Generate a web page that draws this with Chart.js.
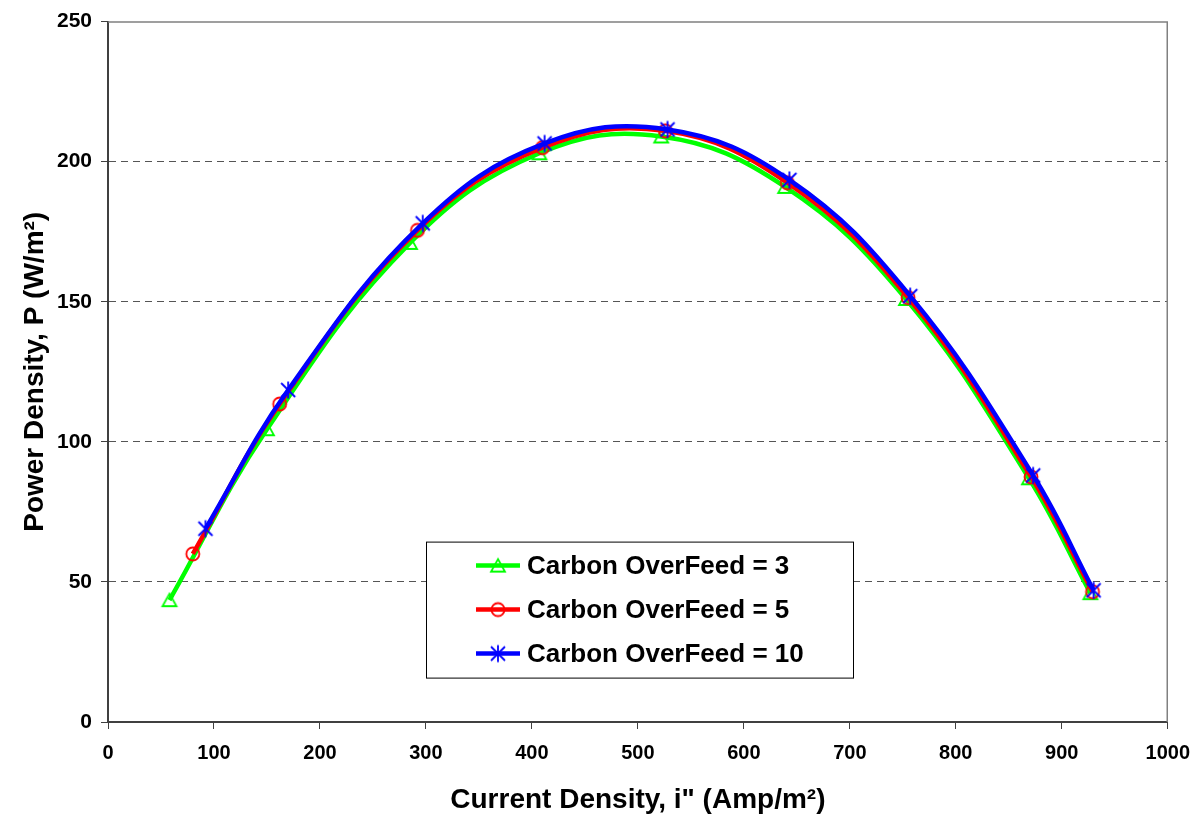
<!DOCTYPE html>
<html>
<head>
<meta charset="utf-8">
<script src="https://cdn.jsdelivr.net/npm/chart.js@4/dist/chart.umd.min.js"></script>
<style>
  html, body { margin: 0; padding: 0; background: #fff; }
  #wrap { width: 1202px; height: 823px; }
</style>
</head>
<body>
<div id="wrap"><canvas id="myChart" width="1202" height="823"></canvas></div>
<script>
// series data
const seriesNames = ['Carbon OverFeed = 3', 'Carbon OverFeed = 5', 'Carbon OverFeed = 10'];
const seriesColors = ['#00ff00', '#ff0000', '#0000ff'];

const feed3X = [58, 150, 285, 407, 522, 639, 753, 869, 927];
const feed3Y = [43.5, 104.5, 171, 203, 209, 191, 151, 87, 46];

const feed5X = [80, 162, 292, 410, 526, 641, 755, 871, 929];
const feed5Y = [60, 113.5, 175.5, 205, 211, 192.5, 151.5, 87.5, 46.5];

const feed10X = [92, 170, 297, 412, 528, 643, 757, 873, 930];
const feed10Y = [69, 118.5, 178, 206.5, 211.5, 193.5, 152, 88, 47];

const yTicks = [0, 50, 100, 150, 200, 250];
const xTicks = [0, 100, 200, 300, 400, 500, 600, 700, 800, 900, 1000];

const FONT = "'Liberation Sans', Arial, sans-serif";

// marker images (Excel-ish triangle, circle, asterisk)
function makeMarker(kind, color) {
    const c = document.createElement('canvas');
    c.width = 20; c.height = 20;
    const g = c.getContext('2d');
    g.strokeStyle = color;
    g.lineWidth = 1.8;
    g.beginPath();
    if (kind === 'triangle') {
        g.moveTo(10, 3.5); g.lineTo(17, 16); g.lineTo(3, 16); g.closePath();
    } else if (kind === 'circle') {
        g.arc(10, 10, 6.5, 0, Math.PI * 2);
    } else {
        g.moveTo(3, 3); g.lineTo(17, 17);
        g.moveTo(17, 3); g.lineTo(3, 17);
        g.moveTo(10, 1.5); g.lineTo(10, 18.5);
    }
    g.stroke();
    return c;
}
const markers = [
    makeMarker('triangle', seriesColors[0]),
    makeMarker('circle', seriesColors[1]),
    makeMarker('star', seriesColors[2])
];

function toPoints(xs, ys) {
    return xs.map((x, i) => ({ x: x, y: ys[i] }));
}

const allX = [feed3X, feed5X, feed10X];
const allY = [feed3Y, feed5Y, feed10Y];

const datasets = seriesNames.map((name, i) => ({
    label: name,
    data: toPoints(allX[i], allY[i]),
    borderColor: seriesColors[i],
    borderWidth: 4.5,
    tension: 0.4,
    fill: false,
    pointStyle: markers[i],
    pointRadius: 10,
    pointHoverRadius: 10,
    order: 3 - i // blue ends up on top
}));

// frame around plot area + custom legend box
const framePlugin = {
    id: 'frame',
    afterDraw(chart) {
        const ctx = chart.ctx;
        const a = chart.chartArea;
        ctx.save();
        ctx.strokeStyle = '#808080';
        ctx.lineWidth = 1.5;
        ctx.beginPath();
        ctx.moveTo(a.left, a.top + 0.5);
        ctx.lineTo(a.right - 0.5, a.top + 0.5);
        ctx.lineTo(a.right - 0.5, a.bottom);
        ctx.stroke();

        // legend
        const lx = a.left + 318, ly = a.top + 520, lw = 427, lh = 136;
        ctx.fillStyle = '#fff';
        ctx.fillRect(lx, ly, lw, lh);
        ctx.strokeStyle = '#000';
        ctx.lineWidth = 1;
        ctx.strokeRect(lx + 0.5, ly + 0.5, lw, lh);
        ctx.font = 'bold 26px ' + FONT;
        ctx.textBaseline = 'middle';
        ctx.textAlign = 'left';
        seriesNames.forEach((name, i) => {
            const cy = ly + 24 + i * 44;
            ctx.strokeStyle = seriesColors[i];
            ctx.lineWidth = 4.5;
            ctx.beginPath();
            ctx.moveTo(lx + 50, cy);
            ctx.lineTo(lx + 94, cy);
            ctx.stroke();
            ctx.drawImage(markers[i], lx + 72 - 10, cy - 10);
            ctx.fillStyle = '#000';
            ctx.fillText(name, lx + 101, cy + 1);
        });
        ctx.restore();
    }
};

const config = {
    type: 'line',
    data: { datasets: datasets },
    options: {
        responsive: false,
        animation: false,
        layout: { padding: { top: 5, right: 32, left: 14, bottom: 2 } },
        plugins: {
            legend: { display: false },
            tooltip: { enabled: false }
        },
        scales: {
            x: {
                type: 'linear',
                min: 0,
                max: 1000,
                afterBuildTicks: s => { s.ticks = xTicks.map(v => ({ value: v })); },
                afterFit: s => { s.height = 99; },
                grid: {
                    drawOnChartArea: false,
                    drawTicks: true,
                    tickLength: 7,
                    tickColor: '#404040'
                },
                border: { display: true, color: '#404040', width: 2 },
                ticks: {
                    color: '#000',
                    padding: 12,
                    maxRotation: 0,
                    callback: v => String(v),
                    font: { family: FONT, weight: 'bold', size: 20 }
                },
                title: {
                    display: true,
                    text: 'Current Density, i" (Amp/m²)',
                    color: '#000',
                    font: { family: FONT, weight: 'bold', size: 28 },
                    padding: { top: 24 }
                }
            },
            y: {
                type: 'linear',
                min: 0,
                max: 250,
                afterBuildTicks: s => { s.ticks = yTicks.map(v => ({ value: v })); },
                afterFit: s => { s.width = 94; },
                grid: {
                    color: ctx => (ctx.tick && (ctx.tick.value === 0 || ctx.tick.value === 250)) ? 'rgba(0,0,0,0)' : '#555',
                    lineWidth: 1,
                    drawTicks: true,
                    tickLength: 7,
                    tickColor: '#404040'
                },
                border: { display: true, color: '#404040', width: 2, dash: [7, 5] },
                ticks: {
                    color: '#000',
                    padding: 9,
                    font: { family: FONT, weight: 'bold', size: 21 }
                },
                title: {
                    display: true,
                    text: 'Power Density, P (W/m²)',
                    color: '#000',
                    font: { family: FONT, weight: 'bold', size: 28 },
                    padding: { bottom: 4 }
                }
            }
        }
    },
    plugins: [framePlugin]
};

const myChart = new Chart(document.getElementById('myChart'), config);
</script>
</body>
</html>
